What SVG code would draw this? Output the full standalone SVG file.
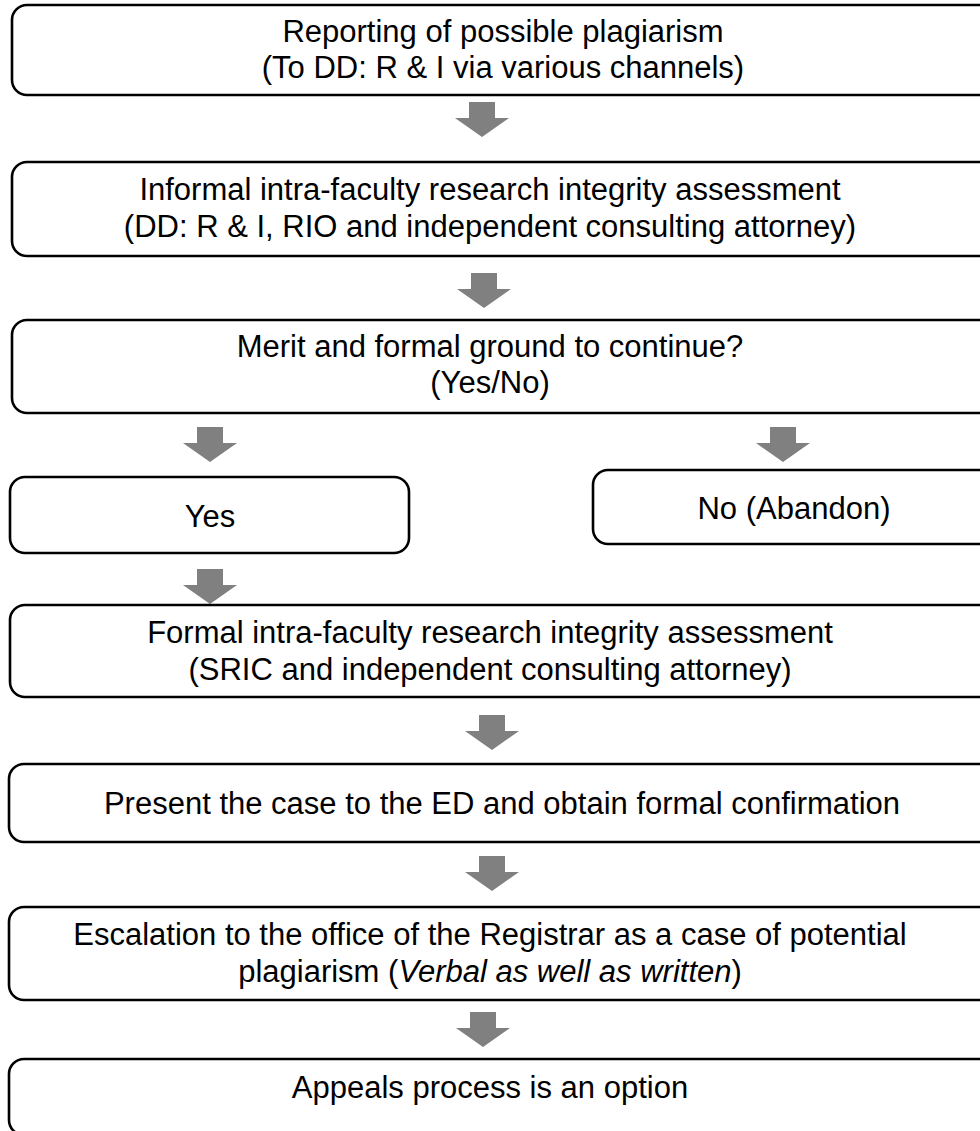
<svg xmlns="http://www.w3.org/2000/svg" width="980" height="1131" viewBox="0 0 980 1131">
  <style>
    .box { fill: #ffffff; stroke: #000000; stroke-width: 2.6; }
    .lbl { font-family: "Liberation Sans", Arial, sans-serif; font-size: 31px; fill: #000000; text-anchor: middle; }
    .flow { fill: #808080; }
  </style>
  <defs>
    <!-- block arrow, origin at top centre of the shaft -->
    <path id="down" d="M-13,0 H13 V16 H27 L0,35 L-27,16 H-13 Z"/>
  </defs>

  <rect width="980" height="1131" fill="#ffffff"/>

  <g id="connectors" class="flow">
    <use href="#down" x="482" y="102"/>
    <use href="#down" x="484" y="273"/>
    <use href="#down" x="210" y="427"/>
    <use href="#down" x="783" y="427"/>
    <use href="#down" x="210" y="569"/>
    <use href="#down" x="492" y="715"/>
    <use href="#down" x="492" y="856"/>
    <use href="#down" x="483" y="1012"/>
  </g>

  <g id="report">
    <rect class="box" x="12" y="5" width="983" height="90" rx="15"/>
    <text class="lbl" x="503" y="42">Reporting of possible plagiarism</text>
    <text class="lbl" x="503" y="78">(To DD: R &amp; I via various channels)</text>
  </g>

  <g id="informal">
    <rect class="box" x="12" y="162" width="983" height="94" rx="15"/>
    <text class="lbl" x="490" y="200">Informal intra-faculty research integrity assessment</text>
    <text class="lbl" x="490" y="237">(DD: R &amp; I, RIO and independent consulting attorney)</text>
  </g>

  <g id="merit">
    <rect class="box" x="12" y="320" width="983" height="93" rx="15"/>
    <text class="lbl" x="490" y="357">Merit and formal ground to continue?</text>
    <text class="lbl" x="490" y="393">(Yes/No)</text>
  </g>

  <g id="yes">
    <rect class="box" x="10" y="477" width="399" height="76" rx="15"/>
    <text class="lbl" x="210" y="527">Yes</text>
  </g>

  <g id="no">
    <rect class="box" x="593" y="470" width="402" height="74" rx="15"/>
    <text class="lbl" x="794" y="519">No (Abandon)</text>
  </g>

  <g id="formal">
    <rect class="box" x="10" y="605" width="985" height="92" rx="15"/>
    <text class="lbl" x="490" y="643">Formal intra-faculty research integrity assessment</text>
    <text class="lbl" x="490" y="680">(SRIC and independent consulting attorney)</text>
  </g>

  <g id="present">
    <rect class="box" x="9" y="764" width="986" height="78" rx="15"/>
    <text class="lbl" x="502" y="814">Present the case to the ED and obtain formal confirmation</text>
  </g>

  <g id="escalation">
    <rect class="box" x="9" y="907" width="986" height="93" rx="15"/>
    <text class="lbl" x="490" y="945">Escalation to the office of the Registrar as a case of potential</text>
    <text class="lbl" x="490" y="982">plagiarism (<tspan font-style="italic">Verbal as well as written</tspan>)</text>
  </g>

  <g id="appeals">
    <rect class="box" x="9" y="1059" width="986" height="76" rx="15"/>
    <text class="lbl" x="490" y="1098">Appeals process is an option</text>
  </g>
</svg>
